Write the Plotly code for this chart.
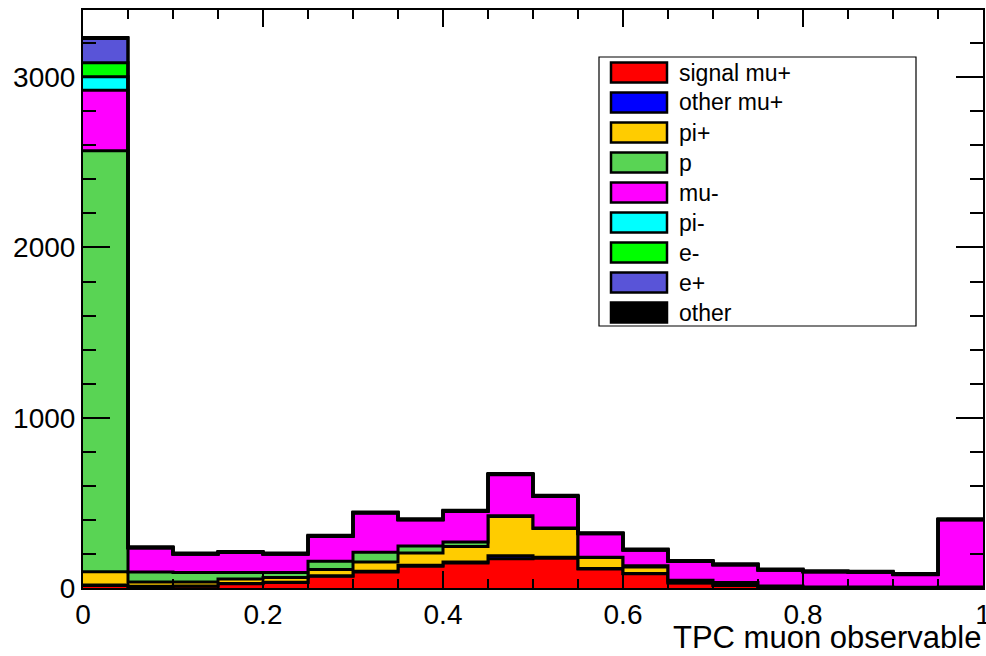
import numpy as np
import plotly.graph_objects as go

# ---------------- data ----------------
bin_edges = [0.0, 0.05, 0.1, 0.15, 0.2, 0.25, 0.3, 0.35, 0.4, 0.45, 0.5,
             0.55, 0.6, 0.65, 0.7, 0.75, 0.8, 0.85, 0.9, 0.95, 1.0]

names = ["signal mu+", "other mu+", "pi+", "p", "mu-", "pi-", "e-", "e+", "other"]
colors = ["#FF0000", "#0000FF", "#FFCC00", "#59D454", "#FF00FF",
          "#00FFFF", "#00FF00", "#5954D8", "#000000"]

signal_mu_plus = [15, 8, 10, 25, 32, 69, 94, 128, 147, 172, 175, 112, 83, 30, 15, 5, 3, 2, 2, 3]
other_mu_plus = [2, 2, 2, 2, 2, 3, 5, 6, 6, 18, 5, 3, 2, 1, 1, 0, 0, 0, 0, 0]
pi_plus = [78, 25, 23, 26, 28, 37, 54, 71, 91, 230, 169, 64, 39, 9, 12, 5, 2, 2, 2, 2]
proton = [2473, 59, 56, 38, 29, 48, 57, 42, 26, 5, 3, 2, 6, 5, 4, 2, 1, 2, 1, 1]
mu_minus = [356, 141, 107, 117, 107, 146, 230, 153, 180, 240, 185, 137, 92, 110, 103, 92, 88, 86, 73, 394]
pi_minus = [79, 1, 1, 1, 1, 1, 1, 1, 1, 1, 1, 1, 1, 1, 1, 1, 1, 1, 1, 1]
e_minus = [82, 1, 1, 1, 1, 1, 1, 1, 1, 1, 1, 1, 1, 1, 1, 1, 1, 1, 1, 1]
e_plus = [143, 1, 1, 1, 1, 1, 1, 1, 1, 1, 1, 1, 1, 1, 1, 1, 1, 1, 1, 1]
other = [5, 4, 4, 4, 4, 4, 4, 4, 4, 4, 4, 4, 4, 4, 4, 4, 4, 4, 4, 4]

series = [signal_mu_plus, other_mu_plus, pi_plus, proton, mu_minus,
          pi_minus, e_minus, e_plus, other]

x_title = "TPC muon observable"

# ---------------- figure ----------------
W, H = 986, 656
ML, MR, MT, MB = 83, 3, 10, 68
FONT = "Liberation Sans, Arial, Helvetica, sans-serif"

fig = go.Figure()
cum = np.zeros(len(bin_edges) - 1)
for i, (name, vals, col) in enumerate(zip(names, series, colors)):
    cum = cum + np.array(vals, dtype=float)
    yv = list(cum) + [cum[-1]]
    fig.add_trace(go.Scatter(
        x=bin_edges, y=yv, mode="lines", name=name,
        line=dict(shape="hv", color="black", width=3),
        fill="tozeroy" if i == 0 else "tonexty",
        fillcolor=col, showlegend=False, hoverinfo="skip"))

ymax = 1.05 * float(cum.max())

# ---------------- legend (ROOT-like box) ----------------
pw = W - ML - MR
ph = H - MT - MB


def px_x(p):
    return (p - ML) / pw


def px_y(p):
    return (H - MB - p) / ph


shapes = [dict(type="rect", xref="paper", yref="paper",
               x0=px_x(599), x1=px_x(916), y0=px_y(326), y1=px_y(57),
               line=dict(color="black", width=1.2), fillcolor="white", layer="above")]
annotations = []
for i, (name, col) in enumerate(zip(names, colors)):
    yc = 72.5 + 30 * i
    shapes.append(dict(type="rect", xref="paper", yref="paper",
                       x0=px_x(611), x1=px_x(667), y0=px_y(yc + 10), y1=px_y(yc - 10),
                       line=dict(color="black", width=2.5), fillcolor=col, layer="above"))
    annotations.append(dict(xref="paper", yref="paper", x=px_x(677), y=px_y(yc),
                            xanchor="left", yanchor="middle", text=name, showarrow=False,
                            font=dict(family=FONT, size=23, color="black")))

annotations.append(dict(xref="paper", yref="paper", x=1.0, y=0, xanchor="right",
                        yanchor="top", yshift=-30, text=x_title, showarrow=False,
                        font=dict(family=FONT, size=31, color="black")))

fig.update_layout(
    width=W, height=H,
    margin=dict(l=ML, r=MR, t=MT, b=MB, pad=0),
    paper_bgcolor="white", plot_bgcolor="white",
    showlegend=False,
    shapes=shapes, annotations=annotations,
    font=dict(family=FONT, color="black"),
    xaxis=dict(range=[0, 1], showgrid=False, zeroline=False,
               showline=True, linecolor="black", linewidth=2, mirror="allticks",
               ticks="inside", ticklen=17, tickwidth=1.5, tickcolor="black",
               tick0=0, dtick=0.2, tickfont=dict(family=FONT, size=28, color="black"),
               ticklabeloverflow="allow",
               minor=dict(dtick=0.05, tick0=0, ticks="inside", ticklen=9,
                          tickwidth=1.5, tickcolor="black", showgrid=False),
               automargin=False, layer="above traces"),
    yaxis=dict(range=[0, ymax], showgrid=False, zeroline=False,
               showline=True, linecolor="black", linewidth=2, mirror="allticks",
               ticks="inside", ticklen=27, tickwidth=1.5, tickcolor="black",
               tick0=0, dtick=1000, tickfont=dict(family=FONT, size=28, color="black"),
               ticklabeloverflow="allow",
               minor=dict(dtick=200, tick0=0, ticks="inside", ticklen=13,
                          tickwidth=1.5, tickcolor="black", showgrid=False),
               automargin=False, layer="above traces"),
)

fig.write_html("out.html")
